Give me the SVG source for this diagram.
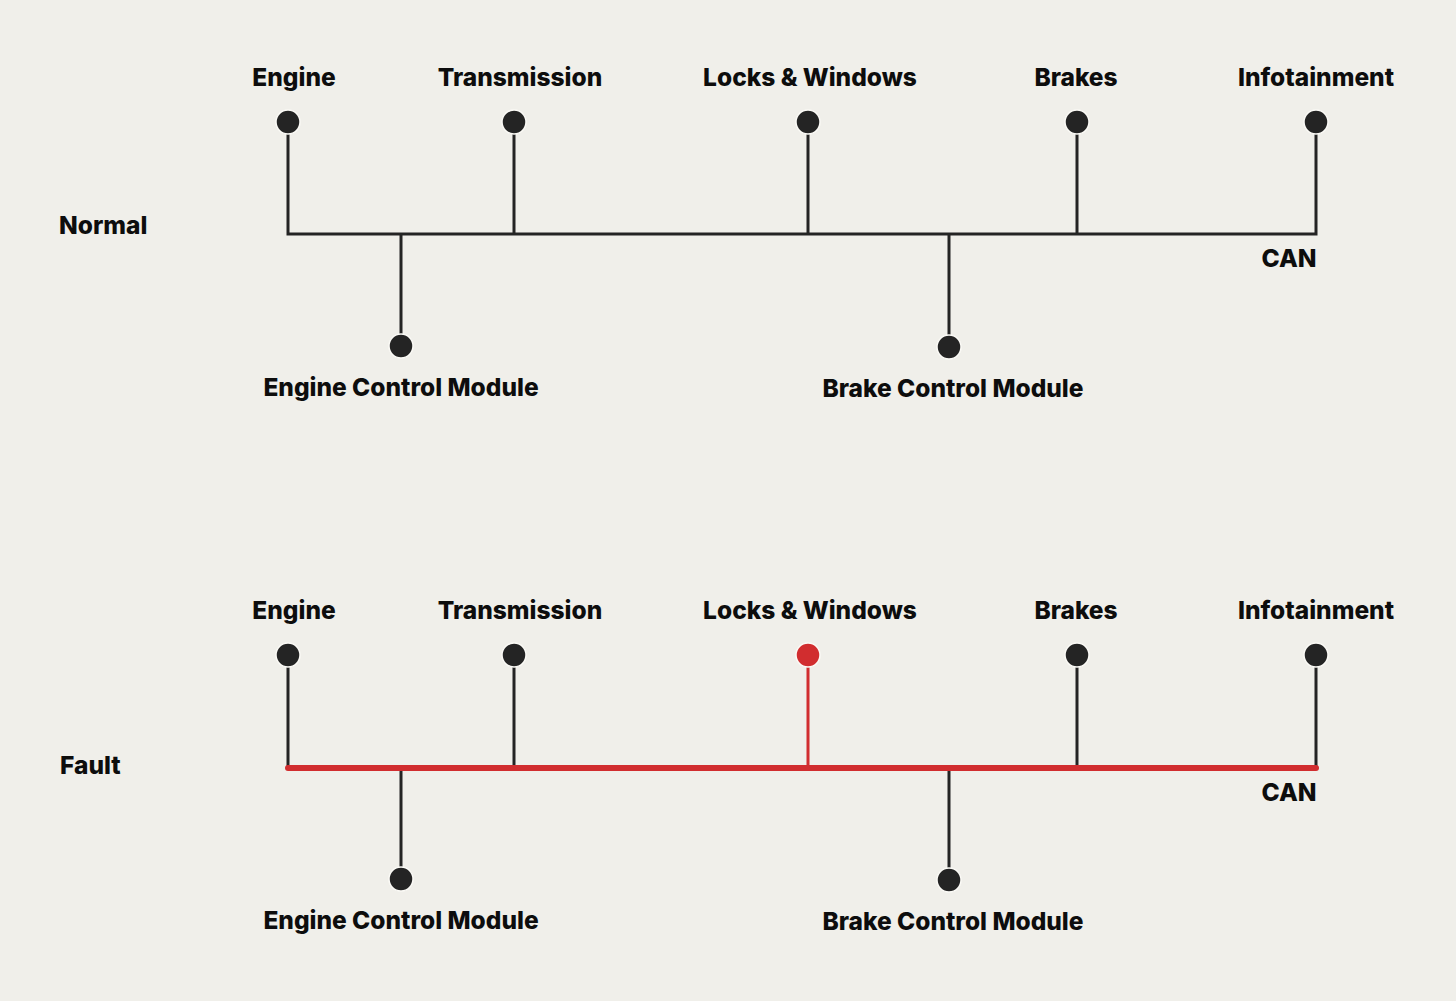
<svg xmlns="http://www.w3.org/2000/svg" width="1456" height="1001" viewBox="0 0 1456 1001">
<style>
.bg{fill:#f0efea}
.lbl{font-family:Inter,"Liberation Sans",sans-serif;font-weight:800;font-size:24.5px;fill:#0d0d0d;text-anchor:middle}
.side{font-family:Inter,"Liberation Sans",sans-serif;font-weight:800;font-size:24.5px;fill:#0d0d0d}
.dot{fill:#242424;stroke:#fbfaf6;stroke-width:1.5}
.dotr{fill:#d12d2f;stroke:#fbfaf6;stroke-width:1.5}
.w{stroke:#242424;stroke-width:3;fill:none}
.wr{stroke:#d12d2f;stroke-width:3;fill:none}
.busr{stroke:#d12d2f;stroke-width:6;stroke-linecap:round;fill:none}
</style>
<rect class="bg" x="0" y="0" width="1456" height="1001"/>
<g id="connectors">
<path class="w" d="M288 134V234H1316V134"/>
<path class="w" d="M514 134V234M808 134V234M1077 134V234M401 234V334M949 234V335"/>
<path class="w" d="M288 667V768M514 667V768M1077 667V768M1316 667V768M401 768V867M949 768V868"/>
<path class="wr" d="M808 667V768"/>
<path class="busr" d="M288 768H1316"/>
</g>
<g id="label-normal"><text class="side" x="59" y="234">Normal</text></g>
<g id="label-can-normal"><text class="lbl" x="1289" y="267">CAN</text></g>
<g id="n-engine"><circle class="dot" cx="288" cy="122" r="12"/><text class="lbl" x="294" y="86">Engine</text></g>
<g id="n-transmission"><circle class="dot" cx="514" cy="122" r="12"/><text class="lbl" x="520" y="86">Transmission</text></g>
<g id="n-locks"><circle class="dot" cx="808" cy="122" r="12"/><text class="lbl" x="810" y="86">Locks &amp; Windows</text></g>
<g id="n-brakes"><circle class="dot" cx="1077" cy="122" r="12"/><text class="lbl" x="1076" y="86">Brakes</text></g>
<g id="n-infotainment"><circle class="dot" cx="1316" cy="122" r="12"/><text class="lbl" x="1316" y="86">Infotainment</text></g>
<g id="n-ecm"><circle class="dot" cx="401" cy="346" r="12"/><text class="lbl" x="401" y="396">Engine Control Module</text></g>
<g id="n-bcm"><circle class="dot" cx="949" cy="347" r="12"/><text class="lbl" x="953" y="397">Brake Control Module</text></g>
<g id="label-fault"><text class="side" x="60" y="774">Fault</text></g>
<g id="label-can-fault"><text class="lbl" x="1289" y="801">CAN</text></g>
<g id="f-engine"><circle class="dot" cx="288" cy="655" r="12"/><text class="lbl" x="294" y="619">Engine</text></g>
<g id="f-transmission"><circle class="dot" cx="514" cy="655" r="12"/><text class="lbl" x="520" y="619">Transmission</text></g>
<g id="f-locks"><circle class="dotr" cx="808" cy="655" r="12"/><text class="lbl" x="810" y="619">Locks &amp; Windows</text></g>
<g id="f-brakes"><circle class="dot" cx="1077" cy="655" r="12"/><text class="lbl" x="1076" y="619">Brakes</text></g>
<g id="f-infotainment"><circle class="dot" cx="1316" cy="655" r="12"/><text class="lbl" x="1316" y="619">Infotainment</text></g>
<g id="f-ecm"><circle class="dot" cx="401" cy="879" r="12"/><text class="lbl" x="401" y="929">Engine Control Module</text></g>
<g id="f-bcm"><circle class="dot" cx="949" cy="880" r="12"/><text class="lbl" x="953" y="930">Brake Control Module</text></g>
</svg>
